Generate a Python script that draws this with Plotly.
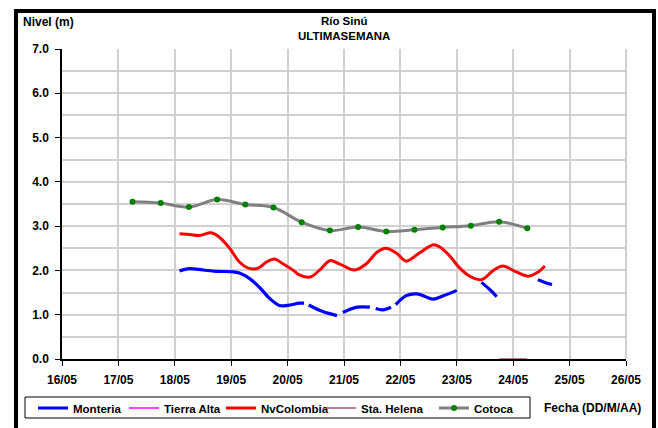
import plotly.graph_objects as go

# --- data -------------------------------------------------------------
# Monteria (None = missing readings, the line breaks there)
monteria_t = [
    "2011-05-18 02:00", "2011-05-18 06:00", "2011-05-18 12:00", "2011-05-18 17:30",
    "2011-05-19 00:30", "2011-05-19 03:30", "2011-05-19 08:00", "2011-05-19 12:00",
    "2011-05-19 16:30", "2011-05-19 20:30", "2011-05-20 00:00", "2011-05-20 05:00",
    "2011-05-20 07:00", "2011-05-20 08:00",
    "2011-05-20 09:00", "2011-05-20 15:00", "2011-05-20 21:00", "2011-05-20 22:00",
    "2011-05-20 23:30", "2011-05-21 05:30", "2011-05-21 11:00", "2011-05-21 12:00",
    "2011-05-21 13:30", "2011-05-21 16:30", "2011-05-21 20:00", "2011-05-21 21:00",
    "2011-05-21 22:00", "2011-05-22 02:30", "2011-05-22 07:00", "2011-05-22 11:00",
    "2011-05-22 14:00", "2011-05-22 18:00", "2011-05-23 00:00", "2011-05-23 05:00",
    "2011-05-23 10:30", "2011-05-23 14:00", "2011-05-23 17:00", "2011-05-24 00:00",
    "2011-05-24 10:30", "2011-05-24 13:30", "2011-05-24 16:30",
]
monteria_v = [
    1.99, 2.04, 2.01, 1.98,
    1.97, 1.94, 1.81, 1.62,
    1.36, 1.21, 1.21, 1.26,
    1.26, None,
    1.22, 1.07, 0.98, None,
    1.05, 1.17, 1.17, None,
    1.14, 1.11, 1.17, None,
    1.23, 1.43, 1.47, 1.40,
    1.35, 1.42, 1.55, None,
    1.73, 1.57, 1.41, None,
    1.79, 1.73, 1.68,
]

# NvColombia
nvcol_t = [
    "2011-05-18 02:00", "2011-05-18 06:30", "2011-05-18 10:30", "2011-05-18 15:30",
    "2011-05-18 19:00", "2011-05-18 23:30", "2011-05-19 03:30", "2011-05-19 08:00",
    "2011-05-19 11:30", "2011-05-19 15:00", "2011-05-19 18:30", "2011-05-19 22:00",
    "2011-05-20 02:30", "2011-05-20 05:00", "2011-05-20 09:30", "2011-05-20 13:30",
    "2011-05-20 18:00", "2011-05-20 22:00", "2011-05-21 04:30", "2011-05-21 09:30",
    "2011-05-21 14:00", "2011-05-21 18:00", "2011-05-21 22:30", "2011-05-22 02:30",
    "2011-05-22 08:00", "2011-05-22 14:30", "2011-05-22 19:30", "2011-05-23 01:30",
    "2011-05-23 05:30", "2011-05-23 10:30", "2011-05-23 15:30", "2011-05-23 19:30",
    "2011-05-24 01:30", "2011-05-24 06:30", "2011-05-24 10:30", "2011-05-24 13:30",
]
nvcol_v = [
    2.83, 2.81, 2.79, 2.85,
    2.75, 2.49, 2.19, 2.04,
    2.05, 2.19, 2.26, 2.15,
    2.00, 1.90, 1.85, 2.00,
    2.22, 2.15, 2.01, 2.15,
    2.41, 2.50, 2.38, 2.21,
    2.39, 2.58, 2.41, 2.04,
    1.87, 1.79, 2.00, 2.10,
    1.96, 1.87, 1.96, 2.10,
]

# Sta. Helena
helena_t = ["2011-05-23 18:00", "2011-05-24 06:00"]
helena_v = [0.0, 0.0]

# Cotoca (readings at 06:00 and 18:00)
cotoca_t = [
    "2011-05-17 06:00", "2011-05-17 18:00", "2011-05-18 06:00", "2011-05-18 18:00",
    "2011-05-19 06:00", "2011-05-19 18:00", "2011-05-20 06:00", "2011-05-20 18:00",
    "2011-05-21 06:00", "2011-05-21 18:00", "2011-05-22 06:00", "2011-05-22 18:00",
    "2011-05-23 06:00", "2011-05-23 18:00", "2011-05-24 06:00",
]
cotoca_v = [3.55, 3.52, 3.43, 3.60, 3.49, 3.42, 3.09, 2.90,
            2.98, 2.88, 2.92, 2.97, 3.01, 3.10, 2.95]

x_range = ["2011-05-16", "2011-05-26"]
y_ticks = [0, 1, 2, 3, 4, 5, 6, 7]

# --- figure -----------------------------------------------------------
FONT = "Liberation Sans"
W, H = 658, 428
ML, MR, MT, MB = 62, 32, 49, 69
PW, PH = W - ML - MR, H - MT - MB


def px_x(p):
    return (p - ML) / PW


def px_y(p):
    return (H - MB - p) / PH


fig = go.Figure()

fig.add_trace(go.Scatter(
    x=monteria_t, y=monteria_v, name="Monteria", mode="lines", legendwidth=46,
    line=dict(color="#0000FF", width=3.2, shape="spline"), connectgaps=False))
fig.add_trace(go.Scatter(
    x=[None], y=[None], name="Tierra Alta", mode="lines", legendwidth=52,
    line=dict(color="#FF00FF", width=1.5)))
fig.add_trace(go.Scatter(
    x=nvcol_t, y=nvcol_v, name="NvColombia", mode="lines", legendwidth=55,
    line=dict(color="#FF0000", width=3, shape="spline")))
fig.add_trace(go.Scatter(
    x=helena_t, y=helena_v, name="Sta. Helena", mode="lines", legendwidth=68,
    line=dict(color="#A0566E", width=1.5), cliponaxis=False))
fig.add_trace(go.Scatter(
    x=cotoca_t, y=cotoca_v, name="Cotoca", mode="lines+markers", legendwidth=48,
    line=dict(color="#808080", width=3, shape="spline"),
    marker=dict(color="#008000", size=6)))

fig.update_layout(
    width=W, height=H,
    margin=dict(l=ML, r=MR, t=MT, b=MB, pad=0, autoexpand=False),
    paper_bgcolor="white", plot_bgcolor="white",
    font=dict(family=FONT, size=12, color="black"),
    showlegend=True,
    legend=dict(
        orientation="h", x=px_x(33), y=px_y(408), xanchor="left", yanchor="middle",
        borderwidth=0, bgcolor="rgba(0,0,0,0)",
        font=dict(family=FONT, size=11.5, color="black", weight="bold"),
        itemwidth=30, tracegroupgap=0,
    ),
    xaxis=dict(
        type="date", range=x_range, dtick=86400000, tickformat="%d/%m",
        showgrid=True, gridcolor="#D0D0D0", gridwidth=1.5,
        showline=True, linecolor="black", linewidth=1.5,
        ticks="outside", ticklen=5, tickcolor="black", ticklabelstandoff=4,
        tickfont=dict(family=FONT, size=12, weight="bold"),
        zeroline=False, fixedrange=True,
    ),
    yaxis=dict(
        range=[0, 7], tickvals=y_ticks, tickformat=".1f",
        showgrid=True, gridcolor="#D0D0D0", gridwidth=1.5,
        minor=dict(dtick=0.5, showgrid=True, gridcolor="#D0D0D0", gridwidth=1.5),
        showline=True, linecolor="black", linewidth=1.5,
        ticks="outside", ticklen=5, tickcolor="black", ticklabelstandoff=4,
        tickfont=dict(family=FONT, size=12, weight="bold"),
        zeroline=False, fixedrange=True,
    ),
)

# right-hand grid edge
fig.add_shape(type="line", xref="paper", yref="paper", x0=1, x1=1, y0=0, y1=1,
              line=dict(color="#C0C0C0", width=1.5))

# legend box
fig.add_shape(type="rect", xref="paper", yref="paper",
              x0=px_x(25), x1=px_x(530), y0=px_y(418), y1=px_y(397),
              line=dict(color="black", width=1), layer="below")

# outer frame
fig.add_shape(type="rect", xref="paper", yref="paper",
              x0=px_x(16), x1=px_x(654), y0=px_y(445), y1=px_y(11),
              line=dict(color="black", width=4), layer="above")

fig.add_annotation(text="Río Sinú<br>ULTIMASEMANA", xref="paper", yref="paper",
                   x=0.5, y=px_y(28), xanchor="center", yanchor="middle",
                   showarrow=False, align="center",
                   font=dict(family=FONT, size=11.5, weight="bold"))
fig.add_annotation(text="Nivel (m)", xref="paper", yref="paper",
                   x=px_x(21), y=px_y(22), xanchor="left", yanchor="middle",
                   showarrow=False, font=dict(family=FONT, size=12, weight="bold"))
fig.add_annotation(text="Fecha (DD/M/AA)", xref="paper", yref="paper",
                   x=px_x(592), y=px_y(408), xanchor="center", yanchor="middle",
                   showarrow=False, font=dict(family=FONT, size=12, weight="bold"))

fig.write_html("out.html")
